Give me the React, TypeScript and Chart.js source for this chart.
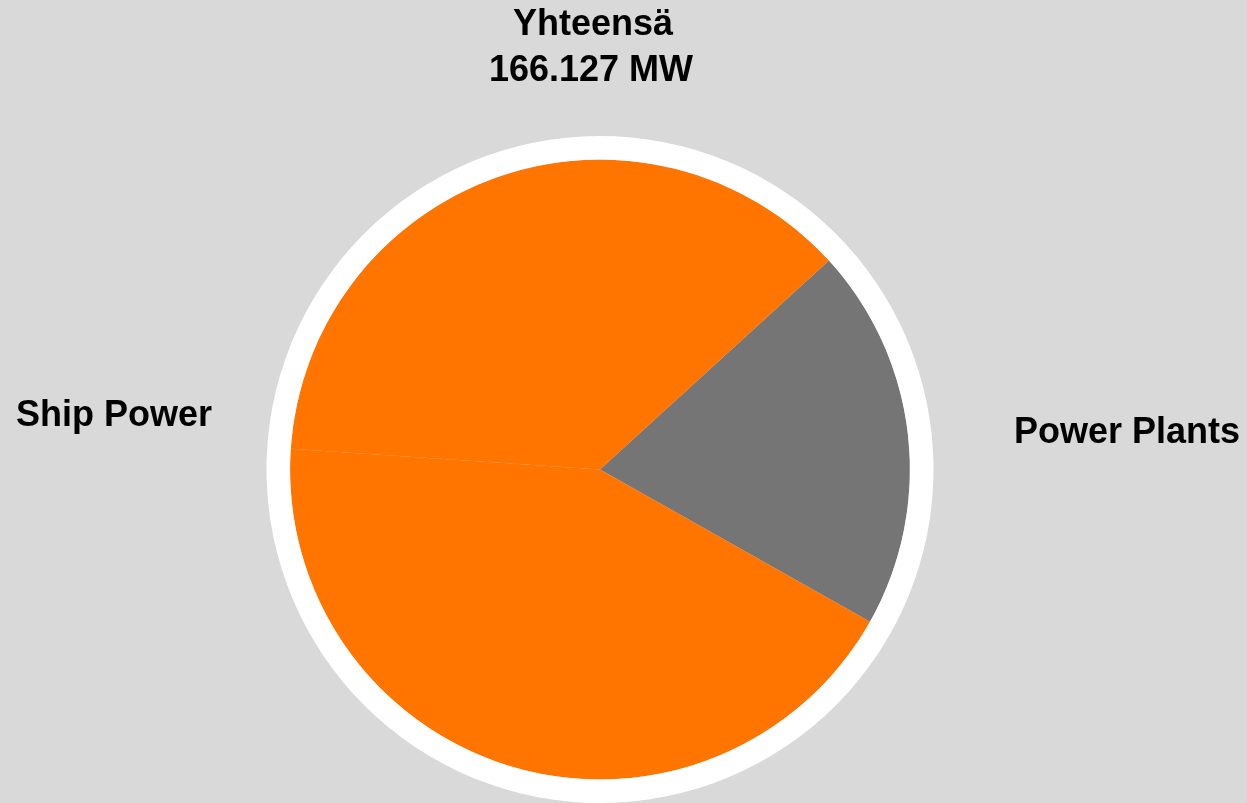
import React, { useEffect, useRef } from "react";
import { Chart, registerables } from "chart.js";

Chart.register(...registerables);

const titleLines = ["Yhteensä", "166.127 MW"];
const categories = ["Power Plants", "Ship Power", "Ship Power"];
const valuesMW = [33.12, 71.27, 61.74];
const sliceColors = ["#757575", "#ff7500", "#ff7500"];
const ringValue = [1];

const FONT = 'bold 36px "Liberation Sans", Arial, sans-serif';

const textPlugin = {
  id: "textPlugin",
  afterDraw(chart: any) {
    const ctx = chart.ctx;
    ctx.save();
    ctx.font = FONT;
    ctx.fillStyle = "#000000";
    ctx.textBaseline = "alphabetic";
    ctx.textAlign = "center";
    ctx.fillText(titleLines[0], 593, 35);
    ctx.fillText(titleLines[1], 591, 81);
    ctx.textAlign = "left";
    ctx.fillText(categories[1], 16, 426);
    ctx.textAlign = "right";
    ctx.fillText(categories[0], 1240, 443);
    ctx.restore();
  },
};

export default function App() {
  const ref = useRef<HTMLCanvasElement | null>(null);
  useEffect(() => {
    if (!ref.current) return;
    const chart = new Chart(ref.current, {
      type: "pie",
      data: {
        labels: categories,
        datasets: [
          {
            data: ringValue,
            backgroundColor: ["#ffffff"],
            borderWidth: 0,
            weight: 0.076,
          } as any,
          {
            data: valuesMW,
            backgroundColor: sliceColors,
            borderWidth: 0,
            weight: 1,
          } as any,
        ],
      },
      options: {
        responsive: false,
        animation: false,
        rotation: 47.63,
        layout: { padding: { top: 136, bottom: 0, left: 0, right: 47 } },
        plugins: {
          legend: { display: false },
          title: { display: false },
          tooltip: { enabled: false },
        },
      },
      plugins: [textPlugin],
    });
    return () => chart.destroy();
  }, []);
  return (
    <div
      style={{
        position: "fixed",
        left: 0,
        top: 0,
        width: 1247,
        height: 803,
        background: "#d9d9d9",
      }}
    >
      <canvas ref={ref} width={1247} height={803} />
    </div>
  );
}
